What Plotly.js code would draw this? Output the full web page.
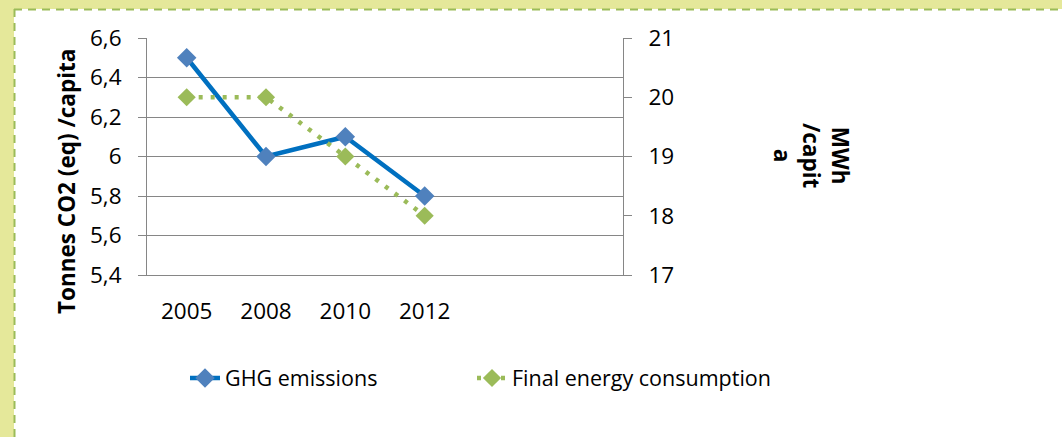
<!DOCTYPE html>
<html>
<head>
<meta charset="utf-8">
<script src="https://cdn.plot.ly/plotly-3.0.1.min.js"></script>
<style>
  html, body { margin: 0; padding: 0; width: 1062px; height: 437px; overflow: hidden; }
  #bg { position: absolute; left: 0; top: 0; }
  #chart { position: absolute; left: 0; top: 0; width: 1062px; height: 437px; }
</style>
</head>
<body>
<svg id="bg" width="1062" height="437">
  <rect x="0" y="0" width="1062" height="437" fill="#e5e89a"/>
  <rect x="14" y="9" width="1048" height="428" fill="#ffffff"/>
  <line x1="14" y1="9.5" x2="1062" y2="9.5" stroke="#9bbb59" stroke-width="2" stroke-dasharray="8,6"/>
  <line x1="14.5" y1="9" x2="14.5" y2="437" stroke="#9bbb59" stroke-width="2" stroke-dasharray="8,6"/>
</svg>
<div id="chart"></div>
<script>
// ---- data ----
const years = ['2005', '2008', '2010', '2012'];
const ghgEmissions = [6.5, 6.0, 6.1, 5.8];          // Tonnes CO2 (eq) / capita (left axis)
const finalEnergy = [20, 20, 19, 18];               // MWh / capita (right axis)
const seriesNames = ['GHG emissions', 'Final energy consumption'];
const leftTitle = 'Tonnes CO2 (eq) /capita';
const rightTitleLines = ['MWh', '/capit', 'a'];

const FONT = 'Open Sans, Noto Sans, sans-serif';
const FS = 22.5;
const LFS = 21.5;
const GRID = '#868686';

const traces = [
  {
    x: years, y: ghgEmissions, name: seriesNames[0], type: 'scatter', mode: 'lines+markers',
    yaxis: 'y', legend: 'legend',
    line: { color: '#0070C0', width: 4.5 },
    marker: { symbol: 'diamond', size: 15, color: '#4F81BD' }
  },
  {
    x: years, y: finalEnergy, name: seriesNames[1], type: 'scatter', mode: 'lines+markers',
    yaxis: 'y2', legend: 'legend2',
    line: { color: '#9BBB59', width: 4.5, dash: '4px,8px' },
    marker: { symbol: 'diamond', size: 14, color: '#9BBB59' }
  }
];

function legendAt(leftPx) {
  return {
    orientation: 'h',
    xref: 'paper', yref: 'paper',
    x: (leftPx - 147) / 476, xanchor: 'left',
    y: (275 - 378) / 237, yanchor: 'middle',
    font: { family: FONT, size: LFS, color: '#000000' },
    bgcolor: 'rgba(0,0,0,0)',
    itemwidth: 30
  };
}

const layout = {
  width: 1062, height: 437,
  margin: { l: 147, r: 439, t: 38, b: 162, pad: 0 },
  paper_bgcolor: 'rgba(0,0,0,0)',
  plot_bgcolor: 'rgba(0,0,0,0)',
  separators: ', ',
  font: { family: FONT, size: FS, color: '#000000' },
  showlegend: true,
  legend: legendAt(185),
  legend2: legendAt(472),
  xaxis: {
    type: 'category',
    range: [-0.5, 5.5],
    showline: true, linecolor: GRID, linewidth: 1,
    ticks: '', showgrid: false, zeroline: false,
    tickfont: { family: FONT, size: FS },
    ticklabelstandoff: 16,
    fixedrange: true
  },
  yaxis: {
    range: [5.4, 6.6], tick0: 5.4, dtick: 0.2,
    showgrid: true, gridcolor: GRID, gridwidth: 1,
    showline: true, linecolor: GRID, linewidth: 1,
    ticks: 'outside', ticklen: 8, tickcolor: GRID, tickwidth: 1,
    zeroline: false,
    tickfont: { family: FONT, size: FS },
    ticklabelstandoff: 12
  },
  yaxis2: {
    overlaying: 'y', side: 'right',
    range: [17, 21], tick0: 17, dtick: 1,
    showgrid: false,
    showline: true, linecolor: GRID, linewidth: 1,
    ticks: 'outside', ticklen: 8, tickcolor: GRID, tickwidth: 1,
    zeroline: false,
    tickfont: { family: FONT, size: FS },
    ticklabelstandoff: 12
  },
  annotations: [
    {
      text: '<b>' + leftTitle + '</b>',
      xref: 'paper', yref: 'paper',
      x: (66 - 147) / 476, y: (275 - 182) / 237,
      xanchor: 'center', yanchor: 'middle',
      textangle: -90, showarrow: false,
      font: { family: FONT, size: FS, color: '#000000' }
    },
    {
      text: '<b>' + rightTitleLines.join('<br>') + '</b>',
      xref: 'paper', yref: 'paper',
      x: (811 - 147) / 476, y: (275 - 156) / 237,
      xanchor: 'center', yanchor: 'middle',
      textangle: 90, showarrow: false,
      font: { family: FONT, size: FS, color: '#000000' }
    }
  ]
};

Plotly.newPlot('chart', traces, layout, { displayModeBar: false, staticPlot: true });
</script>
</body>
</html>
